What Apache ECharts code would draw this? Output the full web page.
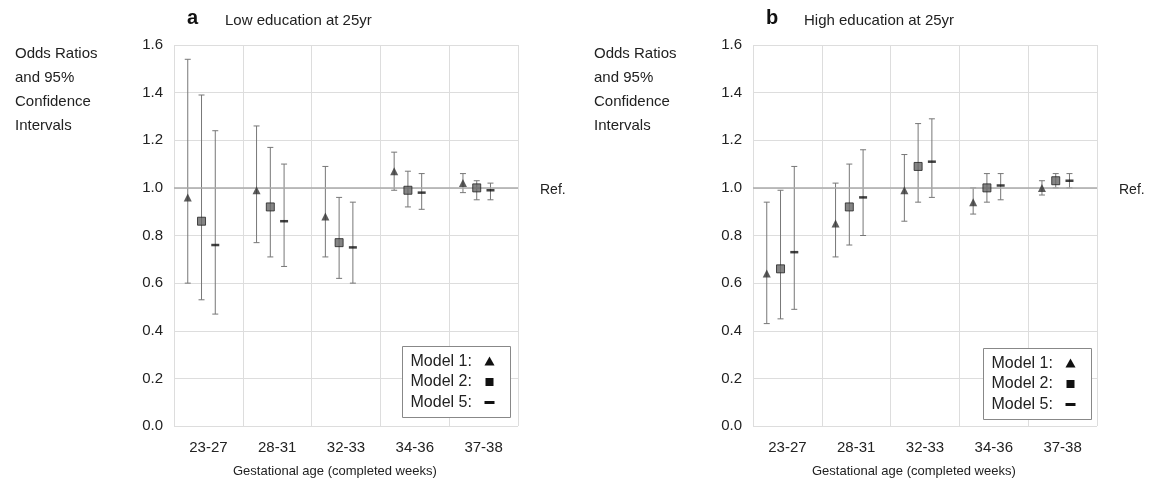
<!DOCTYPE html>
<html><head><meta charset="utf-8">
<script src="https://cdn.jsdelivr.net/npm/echarts@6/dist/echarts.min.js"></script>
<style>html,body{margin:0;background:#fff}#c{width:1152px;height:489px}</style>
</head><body><div id="c"></div>
<script>
var categories = ['23-27', '28-31', '32-33', '34-36', '37-38'];
var modelNames = ['Model 1:', 'Model 2:', 'Model 5:'];
var offsets = [0.2, 0.4, 0.6];
// panel a: [OR, low, high] per category
var lowM1 = [[0.96, 0.60, 1.54], [0.99, 0.77, 1.26], [0.88, 0.71, 1.09], [1.07, 0.99, 1.15], [1.02, 0.98, 1.06]];
var lowM2 = [[0.86, 0.53, 1.39], [0.92, 0.71, 1.17], [0.77, 0.62, 0.96], [0.99, 0.92, 1.07], [1.00, 0.95, 1.03]];
var lowM5 = [[0.76, 0.47, 1.24], [0.86, 0.67, 1.10], [0.75, 0.60, 0.94], [0.98, 0.91, 1.06], [0.99, 0.95, 1.02]];
// panel b
var highM1 = [[0.64, 0.43, 0.94], [0.85, 0.71, 1.02], [0.99, 0.86, 1.14], [0.94, 0.89, 1.00], [1.00, 0.97, 1.03]];
var highM2 = [[0.66, 0.45, 0.99], [0.92, 0.76, 1.10], [1.09, 0.94, 1.27], [1.00, 0.94, 1.06], [1.03, 1.00, 1.06]];
var highM5 = [[0.73, 0.49, 1.09], [0.96, 0.80, 1.16], [1.11, 0.96, 1.29], [1.01, 0.95, 1.06], [1.03, 1.00, 1.06]];

var font = 'Liberation Sans, Arial, sans-serif';
var symbols = [
  {symbol: 'triangle', symbolSize: 8, itemStyle: {color: '#333'}},
  {symbol: 'rect', symbolSize: 8, itemStyle: {color: '#666', borderColor: '#222', borderWidth: 1}},
  {symbol: 'rect', symbolSize: [8, 2.5], itemStyle: {color: '#111'}}
];
var chart = echarts.init(document.getElementById('c'));

function errBar(params, api) {
  var x = api.value(0);
  var p1 = api.coord([x, api.value(1)]);
  var p2 = api.coord([x, api.value(2)]);
  var st = {stroke: '#777', lineWidth: 1};
  return {type: 'group', children: [
    {type: 'line', shape: {x1: p1[0], y1: p1[1], x2: p2[0], y2: p2[1]}, style: st},
    {type: 'line', shape: {x1: p1[0] - 3, y1: p1[1], x2: p1[0] + 3, y2: p1[1]}, style: st},
    {type: 'line', shape: {x1: p2[0] - 3, y1: p2[1], x2: p2[0] + 3, y2: p2[1]}, style: st}
  ]};
}

// legend box drawn as graphic: text + marker on the right
function legendBox(x, y) {
  var kids = [{type: 'rect', z: 100, shape: {x: 0, y: 0, width: 108, height: 71},
    style: {fill: '#fff', stroke: '#888', lineWidth: 1}}];
  modelNames.forEach(function (n, k) {
    var cy = 15 + k * 20.5;
    kids.push({type: 'text', z: 101, x: 8, y: cy, style: {text: n, fontFamily: font, fontSize: 16,
      fill: '#222', verticalAlign: 'middle'}});
    if (k === 0) kids.push({type: 'polygon', z: 101, shape: {points: [[82, cy + 4], [92, cy + 4], [87, cy - 5]]}, style: {fill: '#111'}});
    if (k === 1) kids.push({type: 'rect', z: 101, shape: {x: 83, y: cy - 4, width: 8, height: 8}, style: {fill: '#111'}});
    if (k === 2) kids.push({type: 'rect', z: 101, shape: {x: 82, y: cy - 1.5, width: 10, height: 3}, style: {fill: '#111'}});
  });
  return {type: 'group', left: x, top: y, z: 100, children: kids};
}

var grids = [{left: 174, width: 344, top: 45, height: 381}, {left: 753, width: 344, top: 45, height: 381}];
var xAxis = [], yAxis = [], series = [];
[[lowM1, lowM2, lowM5], [highM1, highM2, highM5]].forEach(function (models, g) {
  xAxis.push({gridIndex: g, type: 'category', data: categories, boundaryGap: true,
    axisLine: {show: false}, axisTick: {show: false},
    axisLabel: {fontFamily: font, fontSize: 15, color: '#222', margin: 14},
    splitLine: {show: true, interval: 0, lineStyle: {color: '#ddd'}}});
  xAxis.push({gridIndex: g, type: 'value', min: 0, max: 5, show: false});
  yAxis.push({gridIndex: g, type: 'value', min: 0, max: 1.6, interval: 0.2,
    axisLine: {show: false}, axisTick: {show: false},
    axisLabel: {fontFamily: font, fontSize: 15, color: '#222', margin: 11,
      formatter: function (v) { return v.toFixed(1); }},
    splitLine: {lineStyle: {color: '#ddd'}}});
  models.forEach(function (m, k) {
    var pts = m.map(function (d, i) { return [i + offsets[k], d[1], d[2]]; });
    series.push({type: 'custom', xAxisIndex: g * 2 + 1, yAxisIndex: g, renderItem: errBar,
      data: pts, z: 2, silent: true});
    series.push(Object.assign({type: 'scatter', name: modelNames[k], xAxisIndex: g * 2 + 1, yAxisIndex: g,
      data: m.map(function (d, i) { return [i + offsets[k], d[0]]; }), z: 5, silent: true},
      symbols[k], k === 0 ? {markLine: {silent: true, symbol: 'none', label: {show: false},
        lineStyle: {color: '#aaa', type: 'solid', width: 1.5}, data: [{yAxis: 1.0}]}} : {}));
  });
});

var titles = [];
[['a', 'Low education at 25yr', 0], ['b', 'High education at 25yr', 579]].forEach(function (t) {
  var dx = t[2];
  titles.push({text: t[0], left: 182 + dx, top: 3, textStyle: {fontFamily: font, fontSize: 20, fontWeight: 'bold', color: '#111'}});
  titles.push({text: t[1], left: 220 + dx, top: 8, textStyle: {fontFamily: font, fontSize: 15, fontWeight: 'normal', color: '#222'}});
  titles.push({text: 'Odds Ratios\nand 95%\nConfidence\nIntervals', left: 10 + dx, top: 37,
    textStyle: {fontFamily: font, fontSize: 15, fontWeight: 'normal', color: '#222', lineHeight: 24}});
  titles.push({text: 'Ref.', left: 535 + dx, top: 178, textStyle: {fontFamily: font, fontSize: 14, fontWeight: 'normal', color: '#222'}});
  titles.push({text: 'Gestational age (completed weeks)', left: 228 + dx, top: 460,
    textStyle: {fontFamily: font, fontSize: 13, fontWeight: 'normal', color: '#222'}});
});

chart.setOption({animation: false, grid: grids, xAxis: xAxis, yAxis: yAxis, series: series,
  title: titles, graphic: [legendBox(402, 346), legendBox(983, 348)]});
</script></body></html>
